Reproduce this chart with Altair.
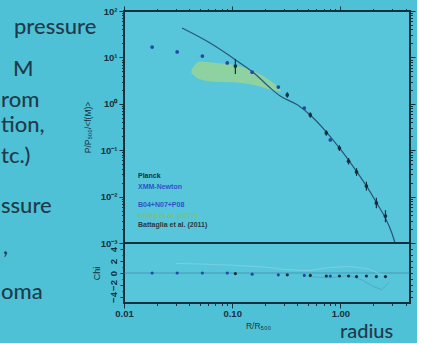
import altair as alt
import pandas as pd

# ---- stacked pressure profile data ----
# Planck (SZ) points with error bars
planck_r = [0.107, 0.323, 0.527, 0.741, 0.98, 1.19, 1.41, 1.74, 2.15, 2.61]
planck_p = [6.5, 1.55, 0.574, 0.235, 0.111, 0.058, 0.034, 0.0169, 0.0073, 0.0038]
planck_lo = [4.4, 1.35, 0.50, 0.205, 0.096, 0.049, 0.028, 0.0135, 0.0056, 0.0028]
planck_hi = [9.2, 1.78, 0.66, 0.27, 0.128, 0.068, 0.041, 0.021, 0.0095, 0.0051]

# XMM-Newton points
xmm_r = [0.0182, 0.031, 0.053, 0.090, 0.153, 0.267, 0.464, 0.807]
xmm_p = [16.7, 13.1, 10.7, 7.6, 4.8, 2.3, 0.81, 0.166]

# model profile
model_r = [0.0344, 0.0625, 0.111, 0.163, 0.225, 0.278, 0.40, 0.55, 0.75, 1.0,
           1.4, 1.8, 2.2, 2.6, 3.0, 3.2]
model_p = [43, 20.4, 8.4, 4.4, 2.19, 1.47, 0.95, 0.52, 0.24, 0.105,
           0.036, 0.015, 0.0068, 0.0035, 0.0016, 0.001]

# simulation envelope
band_r = [0.042, 0.05, 0.07, 0.10, 0.15, 0.20, 0.25, 0.28]
band_lo = [4.6, 3.4, 3.0, 2.9, 2.6, 2.2, 1.9, 1.8]
band_hi = [5.4, 8.2, 7.6, 7.0, 5.3, 3.8, 2.6, 2.0]

# residuals
chi_xmm = [0.0, 0.0, 0.0, 0.0, -0.2, -0.3, -0.4, -0.5]
chi_planck = [-0.1, -0.3, -0.4, -0.5, -0.5, -0.5, -0.6, -0.5, -0.6, -0.6]
chi_a_r = [0.03, 0.05, 0.10, 0.20, 0.30, 0.50, 0.80, 1.20, 1.80, 2.50]
chi_a = [1.6, 1.5, 1.3, 1.0, 0.6, 0.4, 0.9, 1.1, 0.7, -0.4]
chi_b_r = [0.5, 0.8, 1.2, 1.6, 2.0, 2.4, 2.8]
chi_b = [-0.6, -0.8, -0.4, -1.2, -2.2, -2.8, -1.6]

legend_lines = ["Planck", "XMM-Newton", "", "B04+N07+P08", "Dolag et al. (2012)",
                "Battaglia et al. (2011)"]
slide_words = ["pressure", "M", "rom", "tion,", "tc.)", "ssure", ",", "oma", "radius"]

# ---- styling ----
BG = "#4fc1d6"
PLOT_BG = "#57c6da"
INK = "#15303d"
BLUE = "#2448a6"
LINE = "#2a5578"
SLIDE_INK = "#1f3b4b"
LABEL_FONT = "Liberation Sans"

W, H_MAIN, H_CHI = 286, 232, 60

planck = pd.DataFrame({"r": planck_r, "p": planck_p, "lo": planck_lo, "hi": planck_hi,
                       "set": "Planck"})
xmm = pd.DataFrame({"r": xmm_r, "p": xmm_p, "set": "XMM-Newton"})
pts = pd.concat([xmm, planck[["r", "p", "set"]]], ignore_index=True)
model = pd.DataFrame({"r": model_r, "p": model_p})
band = pd.DataFrame({"r": band_r, "lo": band_lo, "hi": band_hi})
chi = pd.DataFrame({"r": xmm_r + planck_r, "c": chi_xmm + chi_planck,
                    "set": ["XMM-Newton"] * len(xmm_r) + ["Planck"] * len(planck_r)})
chi_a_df = pd.DataFrame({"r": chi_a_r, "c": chi_a})
chi_b_df = pd.DataFrame({"r": chi_b_r, "c": chi_b})

xs = alt.Scale(type="log", domain=[0.01, 4.4], nice=False)
ys = alt.Scale(type="log", domain=[0.001, 100], nice=False)
cs = alt.Scale(domain=[-5, 5], nice=False)
set_colors = alt.Scale(domain=["Planck", "XMM-Newton"], range=[INK, BLUE])

x_ticks = [k * 10.0 ** e for e in (-2, -1, 0) for k in range(1, 10)]
x_ticks = [v for v in x_ticks if v <= 4.4]
y_ticks = [k * 10.0 ** e for e in (-3, -2, -1, 0, 1) for k in range(1, 10)] + [100.0]

DECADE = "abs(log(datum.value)/LN10 - round(log(datum.value)/LN10)) < 0.001"
log_tick = {"condition": {"test": DECADE, "value": 5}, "value": 2.5}

common = dict(domain=False, grid=False, tickColor=INK, tickWidth=1,
              labelColor=INK, labelFont=LABEL_FONT, labelFontSize=9.5,
              labelFontWeight="bold", labelFlush=False, labelOverlap=False,
              titleColor=INK, titleFont=LABEL_FONT, titleFontWeight="normal")

y_main_axis = alt.Axis(
    values=y_ticks, tickSize=log_tick,
    labelExpr=DECADE + " ? '10' + ['⁻³','⁻²','⁻¹','⁰','¹','²'][round(log(datum.value)/LN10)+3] : ''",
    title="P/P₅₀₀/<f(M)>", titleFontSize=8.5, titlePadding=8, labelPadding=2, **common)
y_main_right = alt.Axis(orient="right", values=y_ticks, tickSize=log_tick, labels=False,
                        title=None, **common)
x_main_bottom = alt.Axis(values=x_ticks, tickSize=log_tick, labels=False, title=None, **common)
x_main_top = alt.Axis(orient="top", values=x_ticks, tickSize=log_tick, labels=False,
                      title=None, **common)

# ---- upper panel ----
band_layer = alt.Chart(band).mark_area(color="#b4da7c", opacity=0.6,
                                       interpolate="monotone").encode(
    x=alt.X("r:Q", scale=xs, axis=x_main_bottom),
    y=alt.Y("lo:Q", scale=ys, axis=y_main_axis),
    y2="hi:Q",
)
model_layer = alt.Chart(model).mark_line(color=LINE, strokeWidth=1.2, clip=True,
                                         interpolate="monotone").encode(
    x=alt.X("r:Q", scale=xs, axis=x_main_top),
    y=alt.Y("p:Q", scale=ys, axis=y_main_right),
)
err_layer = alt.Chart(planck).mark_rule(color=INK, strokeWidth=1.2).encode(
    x=alt.X("r:Q", scale=xs, axis=None), y=alt.Y("lo:Q", scale=ys, axis=None), y2="hi:Q",
)
pts_layer = alt.Chart(pts).mark_circle(size=14, opacity=1).encode(
    x=alt.X("r:Q", scale=xs, axis=None),
    y=alt.Y("p:Q", scale=ys, axis=None),
    color=alt.Color("set:N", scale=set_colors, legend=None),
)

# legend block written inside the panel
legend_colors = [INK, "#2f52c8", INK, "#2f52c8", "#74c47c", "#2a3a40"]
legend_y = [165, 176, 185, 194, 205, 214]
legend_layers = []
for txt, col, yy in zip(legend_lines, legend_colors, legend_y):
    if not txt:
        continue
    legend_layers.append(
        alt.Chart(pd.DataFrame({"t": [txt]})).mark_text(
            align="left", baseline="middle", font=LABEL_FONT, fontSize=7,
            fontWeight="bold", color=col,
        ).encode(text="t:N", x=alt.value(14), y=alt.value(yy))
    )

# slide words around the figure (pixel offsets from the panel origin)
slide_pos = [(-110, 23), (-111, 65), (-123, 96), (-123, 121), (-123, 152),
             (-123, 202), (-121, 243), (-123, 288), (216, 327)]
slide_sizes = [22, 22, 22, 22, 22, 22, 22, 22, 20]
slide_layers = []
for word, (px, py), fs in zip(slide_words, slide_pos, slide_sizes):
    slide_layers.append(
        alt.Chart(pd.DataFrame({"t": [word]})).mark_text(
            align="left", baseline="alphabetic", font="Lato", fontSize=fs,
            fontWeight=500, color=SLIDE_INK,
        ).encode(text="t:N", x=alt.value(px), y=alt.value(py))
    )

main = alt.layer(band_layer, model_layer, err_layer, pts_layer,
                 *legend_layers, *slide_layers).resolve_axis(
    x="independent", y="independent").properties(width=W, height=H_MAIN)

# ---- residual panel ----
chi_ticks = list(range(-4, 5))
chi_axis = alt.Axis(values=chi_ticks,
                    tickSize={"condition": {"test": "datum.value % 2 == 0", "value": 4},
                              "value": 2},
                    labelExpr="datum.value % 2 == 0 ? format(datum.value, 'd') : ''",
                    labelAngle=-90, labelPadding=2,
                    title="Chi", titleFontSize=9, titlePadding=7, **common)
chi_right = alt.Axis(orient="right", values=chi_ticks, tickSize=2.5, labels=False,
                     title=None, **common)
x_chi_axis = alt.Axis(values=x_ticks, tickSize=log_tick,
                      labelExpr=DECADE + " ? format(datum.value, '.2f') : ''",
                      labelPadding=0, title="R/R₅₀₀", titleFontSize=8.5,
                      titlePadding=4, titleX=134, **common)

zero_layer = alt.Chart(pd.DataFrame({"c": [0.0]})).mark_rule(
    color="#3f7f9a", strokeWidth=0.8, opacity=0.8).encode(
    y=alt.Y("c:Q", scale=cs, axis=chi_axis))
chi_a_layer = alt.Chart(chi_a_df).mark_line(color="#8fd3e6", strokeWidth=0.8,
                                            opacity=0.8).encode(
    x=alt.X("r:Q", scale=xs, axis=x_chi_axis),
    y=alt.Y("c:Q", scale=cs, axis=None))
chi_b_layer = alt.Chart(chi_b_df).mark_line(color="#4f8fa8", strokeWidth=0.7,
                                            opacity=0.7).encode(
    x=alt.X("r:Q", scale=xs, axis=None),
    y=alt.Y("c:Q", scale=cs, axis=chi_right))
chi_pts = alt.Chart(chi).mark_circle(size=10, opacity=1).encode(
    x=alt.X("r:Q", scale=xs, axis=None),
    y=alt.Y("c:Q", scale=cs, axis=None),
    color=alt.Color("set:N", scale=set_colors, legend=None),
)

lower = alt.layer(zero_layer, chi_a_layer, chi_b_layer, chi_pts).resolve_axis(
    x="independent", y="independent").properties(width=W, height=H_CHI)

chart = alt.vconcat(main, lower, spacing=0, bounds="flush").properties(
    padding={"left": 0, "top": 4, "right": 0, "bottom": 0},
    background=BG,
).configure_view(
    fill=PLOT_BG, stroke=INK, strokeWidth=2,
)

chart.save("out.html", embed_options={"renderer": "svg", "actions": False})
